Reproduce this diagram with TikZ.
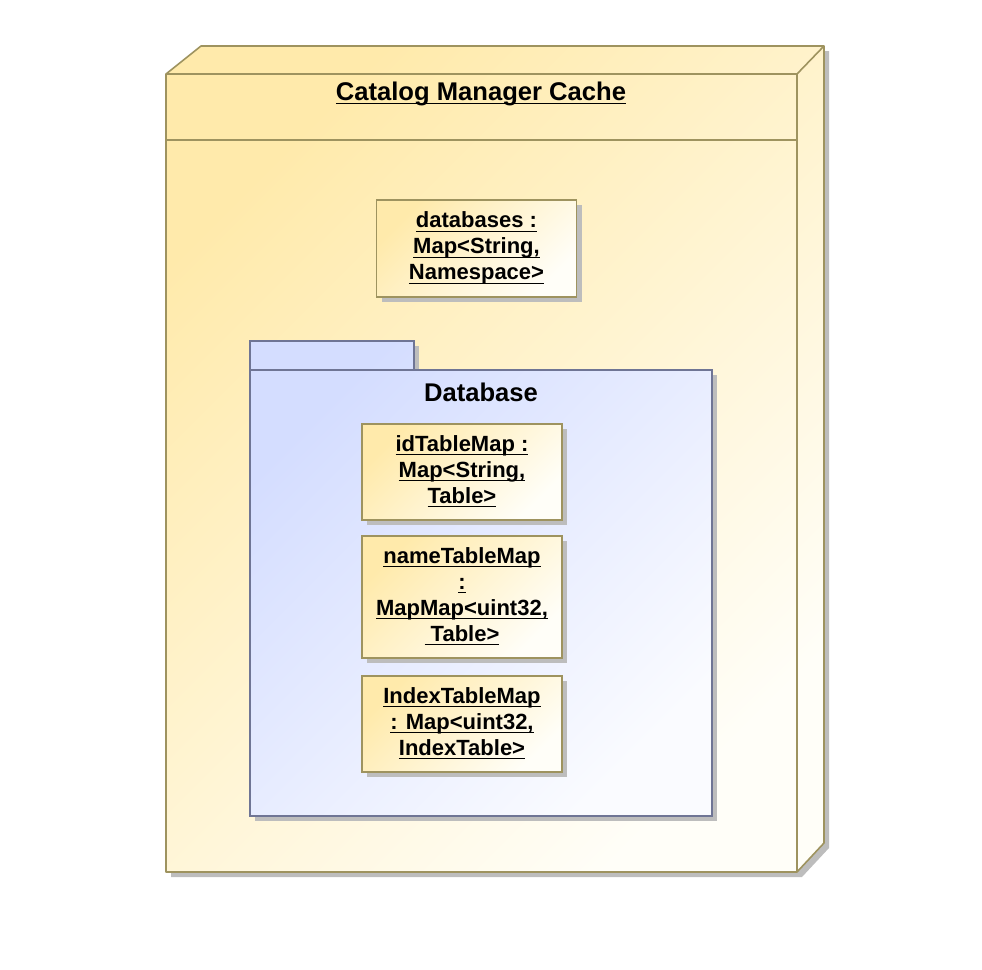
\documentclass[tikz,border=0pt]{standalone}
\usepackage{fontspec}
\setmainfont{Liberation Sans}
\usetikzlibrary{shadows}
\definecolor{nodeborder}{HTML}{9E935F}
\definecolor{nodetop}{HTML}{FFEAAB}
\definecolor{nodebottom}{HTML}{FFFEF8}
\definecolor{pkgborder}{HTML}{6F7595}
\definecolor{pkgtop}{HTML}{D4DDFF}
\definecolor{pkgbottom}{HTML}{FAFBFF}
\definecolor{shadowgray}{HTML}{BDBDBD}
\tikzset{
    nodeshade/.style={
        top color=nodetop,
        bottom color=nodebottom,
        shading angle=45
    },
    pkgshade/.style={
        top color=pkgtop,
        bottom color=pkgbottom,
        shading angle=45
    },
    objbox/.style={
        draw=nodeborder,
        line width=0.8pt,
        nodeshade,
        minimum width=100pt,
        inner sep=0pt,
        align=center,
        font=\bfseries\fontsize{11}{13}\selectfont,
        drop shadow={shadow xshift=2.5pt, shadow yshift=-2.5pt, opacity=1, fill=shadowgray}
    }
}
\newcommand{\ulText}[1]{\underline{\smash{#1}\rule[-0.5pt]{0pt}{8pt}}}
\newcommand{\objNode}[5] {
	\node[objbox, minimum height=#4] (#1) at (#2,#3) {#5};
}

\begin{document}
\begin{tikzpicture}[x=0.5pt,y=-0.5pt]
		\useasboundingbox (0,0) rectangle (982,970);

		% Catalog Manager Cache node
		\fill[shadowgray] (171,79) -- (206,51) -- (829,51) -- (829,848) -- (802,877) -- (171,877) -- cycle;
		\shade[nodeshade] (166,74) -- (201,46) -- (824,46) -- (824,843) -- (797,872) -- (166,872) -- cycle;
		\draw[nodeborder, line width=0.8pt, line join=round]
			(166,74) -- (201,46) -- (824,46) -- (824,843) -- (797,872) -- (166,872) -- cycle
			(166,74) -- (797,74) -- (797,872)
			(797,74) -- (824,46)
			(166,140) -- (797,140);
		\node[font=\bfseries\fontsize{12.8}{15}\selectfont] (cacheTitle) at (481,95) {\ulText{Catalog Manager Cache}};

		\objNode{databases}{476.5}{248.5}{48.5pt}{\ulText{databases :}\\\ulText{Map<String,}\\\ulText{Namespace>}}

		% Database package
		\fill[shadowgray] (255,346) rectangle (419,375);
		\fill[shadowgray] (255,375) rectangle (717,821);
		\shade[pkgshade] (250,370) -- (250,341) -- (414,341) -- (414,370) -- (712,370) -- (712,816) -- (250,816) -- cycle;
		\draw[pkgborder, line width=0.8pt] (250,370) -- (250,341) -- (414,341) -- (414,370);
		\draw[pkgborder, line width=0.8pt] (250,370) rectangle (712,816);
		\node[font=\bfseries\fontsize{12.8}{15}\selectfont] (dbTitle) at (481,392) {Database};

		\objNode{idTableMap}{462}{472}{48pt}{\ulText{idTableMap :}\\\ulText{Map<String,}\\\ulText{Table>}}
		\objNode{nameTableMap}{462}{597}{61pt}{\ulText{nameTableMap}\\\ulText{:}\\\ulText{MapMap<uint32,}\\\ulText{\ Table>}}
		\objNode{indexTableMap}{462}{724}{48pt}{\ulText{IndexTableMap}\\\ulText{: Map<uint32,}\\\ulText{IndexTable>}}

	\end{tikzpicture}
\end{document}
